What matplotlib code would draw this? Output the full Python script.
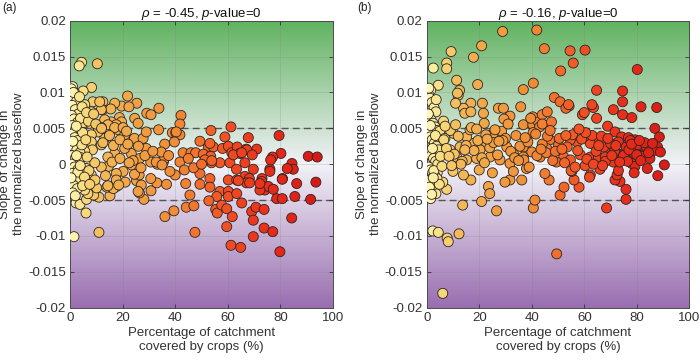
import numpy as np
import matplotlib
matplotlib.use("Agg")
import matplotlib.pyplot as plt
from matplotlib.colors import LinearSegmentedColormap

plt.rcParams['font.family'] = ['Liberation Sans', 'DejaVu Sans']
plt.rcParams['mathtext.fontset'] = 'custom'
plt.rcParams['mathtext.rm'] = 'Liberation Sans'
plt.rcParams['mathtext.it'] = 'Liberation Sans:italic'

# ---------------- data (crop %, slope in units of 1e-3) ----------------
crop_a = [4.4, 3.5, 10.4, 1.0, 0.5, 8.2, 5.0, 21.9, 25.4, 19.6, 22.4, 33.8, 29.2, 30.8, 42.2, 41.8,
          53.6, 61.2, 58.9, 67.8, 79.5, 80.2, 77.0, 84.4, 90.6, 94.0, 38.9, 40.2, 41.8, 49.4, 52.6,
          54.5, 58.0, 60.2, 61.5, 63.6, 67.0, 71.0, 67.2, 64.6, 43.0, 46.0, 47.8, 50.7, 53.5, 57.0,
          53.8, 60.8, 63.3, 66.5, 69.3, 73.0, 76.0, 80.8, 84.9, 41.8, 35.5, 35.8, 33.2, 30.7,
          53.2, 62.1, 65.3, 51.3, 53.9, 69.7, 76.3, 82.6, 76.0, 49.4, 53.2, 60.2, 63.4, 66.5, 68.2,
          72.9, 72.9, 74.1, 75.4, 77.3, 80.7, 86.2, 93.5, 57.0, 60.2, 60.2, 55.8, 63.4, 65.3, 78.6,
          80.7, 85.5, 91.5,
          1.5, 11.0, 6.1, 2.3, 3.8, 6.3, 15.2, 11.0, 9.0, 6.7, 28.1, 26.4, 30.8, 45.6, 36.1, 39.5,
          44.2, 47.1, 47.5, 52.8, 55.4, 56.0, 57.7, 59.6, 59.6, 61.2, 64.9, 61.7, 69.1, 70.7, 69.7,
          69.7, 73.8, 73.8, 77.1, 79.8, 84.3, 72.2, 72.2, 67.1, 68.3, 64.0, 53.2, 49.4, 36.7, 33.0,
          25.3, 15.2, 17.7, 17.7, 14.0, 10.1, 16.5,
          33.7, 40.4, 39.7, 36.0, 34.7, 32.8, 35.0, 30.7, 27.1, 25.9, 26.3, 24.5, 23.4, 20.2, 17.6,
          17.6, 14.4, 6.8, 5.6, 0.5, 18.3, 20.8, 24.5, 27.8, 29.0, 29.0, 26.5, 23.3, 20.8, 17.0,
          14.4, 14.6, 11.9, 9.4, 11.9, 13.2, 10.6, 8.1, 8.1, 8.5, 5.6, 6.2, 8.1, 4.3,
          17.0, 12.5, 12.5, 15.5, 18.8, 19.6, 15.7, 17.6, 24.6, 25.9, 13.2, 11.9, 8.7, 8.1, 5.6,
          7.5, 4.3, 5.6, 1.8, 2.3, 1.1, 1.8, 11.3, 14.4, 11.9, 17.0, 20.2,
          0.5, 1.2, 2.5, 0.8, 2.0, 3.2, 0.6, 1.5, 2.8, 0.9, 2.2, 3.5, 0.7, 1.8, 3.0, 0.5, 1.5, 2.6,
          3.8, 0.8, 2.0, 3.2, 0.6, 1.7, 2.9, 0.9, 2.2, 3.4, 0.5, 1.5, 2.8, 1.0, 2.0, 3.0, 4.2, 4.5,
          4.8, 5.2, 4.0, 4.6, 1.3, 3.6, 2.4, 1.1, 3.9, 0.4, 2.5, 6.0, 6.5, 7.2, 9.5, 7.0, 9.8, 12.0,
          6.3, 9.0, 5.5, 4.8, 7.5,
          12.5, 15.0, 16.5, 19.0, 21.5, 22.0, 24.0, 26.0, 28.5, 31.5, 13.5, 16.0, 19.0, 21.0, 22.5,
          27.0, 18.5, 37.5, 43.5, 45.0, 47.0, 50.0, 44.0, 40.0, 38.0]
slope_a = [14.2, 13.7, 14.0, 10.8, 10.5, 10.7, 10.2, 9.5, 8.5, 8.1, 8.0, 7.8, 7.1, 6.9, 6.8, 5.6,
           4.7, 5.2, 3.8, 3.7, 4.0, 1.5, 1.0, 0.1, 1.1, 1.0, 4.4, 4.4, 4.1, 3.2, 2.4,
           2.4, 2.2, 2.5, 1.6, 2.4, 2.1, 2.1, 2.0, 1.5, 1.6, 1.6, 1.6, 1.4, 1.1, 0.2,
           0.2, 0.2, -0.7, 0.2, 1.3, -2.0, -0.7, -2.0, -0.7, 0.3, 0.3, 0.7, 0.0, 0.3,
           2.9, 1.3, 1.6, 0.6, 0.5, -0.7, 0.6, -0.6, -1.0, -1.3, -2.0, -2.2, -2.2, -1.7, -2.0,
           -2.4, -3.4, -3.6, -3.1, -3.5, -2.1, -2.7, -2.5, -3.8, -3.8, -4.5, -4.5, -4.1, -5.4, -4.8,
           -4.8, -4.5, -4.9,
           -10.1, -9.5, -6.8, -5.4, -5.6, -4.9, -4.4, -4.6, -4.3, -3.9, -4.9, -4.0, -3.7, -4.3, -7.3, -6.5,
           -6.0, -5.8, -9.5, -5.1, -6.3, -6.8, -5.7, -6.2, -8.7, -11.3, -11.6, -7.3, -6.6, -6.0, -7.8,
           -10.1, -8.9, -6.3, -9.4, -12.2, -7.5, -3.6, -2.7, -2.6, -2.6, -2.3, -3.2, -2.8, -2.8, -2.6,
           -2.3, -3.2, -3.1, -2.4, -3.2, -3.3, -3.4,
           4.8, 4.5, 3.1, 2.8, 1.7, 0.3, -0.1, -2.0, -2.9, -3.8, -1.5, -1.4, -0.1, -1.0, -1.3,
           -2.2, -3.0, -4.1, -3.6, -3.1, 4.8, 4.1, 3.6, 3.6, 4.5, 2.2, 0.8, 1.5, 2.2, 1.5,
           1.0, -0.3, -0.4, 0.2, 2.7, 3.6, 4.5, 4.1, 3.1, 2.0, 1.8, -0.6, -1.5, -2.0,
           8.5, 8.7, 7.6, 7.7, 6.5, 5.9, 5.9, 5.5, 6.4, 5.7, 6.2, 7.6, 8.7, 7.3, 6.4,
           5.7, 7.6, 8.3, 9.9, 8.3, 7.1, 5.9, 8.7, 5.5, 5.1, 5.1, 5.1,
           9.8, 9.3, 8.8, 8.2, 7.6, 7.0, 6.8, 6.3, 5.8, 5.4, 4.9, 4.6, 4.2, 3.7, 3.3, 2.9, 2.4, 2.0,
           1.6, 1.2, 0.8, 0.4, 0.0, -0.4, -0.8, -1.3, -1.8, -2.3, -2.6, -3.0, -3.4, -4.0, -4.4, -1.1, 0.9, 2.7,
           4.4, 5.8, 6.4, 8.0, 10.0, 9.4, 5.3, 3.2, -0.2, -1.9, 1.2, 3.4, 1.0, -0.9, -2.2, 6.0, 5.6, 5.0,
           7.2, 7.0, -1.8, -3.0, -2.8,
           3.0, 4.0, 2.6, 3.4, 4.6, 2.8, 0.5, 2.5, 1.2, 1.8, -1.6, 0.3, 0.8, -2.5, 0.2,
           -0.5, -2.9, 1.2, -0.8, 0.8, -0.5, 0.0, -2.7, -1.5, -1.0]

crop_b = [28.9, 41.9, 44.8, 20.9, 17.8, 9.3, 7.6, 7.6, 2.5, 54.6, 55.8, 60.3, 51.0, 80.2, 74.6, 74.6,
          64.7, 40.6, 36.8, 19.4, 11.4, 4.4, 12.0, 12.5, 27.3, 29.2, 35.8, 31.1, 21.6, 48.6, 50.8,
          54.2, 53.0, 59.3, 60.0, 63.5, 64.7, 71.1, 74.6, 78.1, 81.6, 87.6, 86.9, 88.6, 90.5, 40.4,
          36.8, 40.4, 42.5, 43.0, 21.9, 31.7, 1.5, 11.7, 16.8, 21.2, 29.4, 39.6, 44.0, 45.9, 44.0,
          47.5, 14.0, 14.5, 11.0, 16.8, 54.0, 62.9, 68.9,
          6.1, 2.3, 4.4, 7.8, 8.2, 12.3, 49.5, 1.5, 1.5, 3.5, 7.6, 13.7, 20.9, 26.6, 23.5, 24.0,
          40.6, 41.2, 50.8, 52.3, 58.0, 68.5, 75.9, 75.9, 73.6, 71.7, 56.1, 46.6, 36.2, 31.7, 29.8,
          16.8, 6.1, 1.3,
          71.7, 74.2, 76.8, 79.3, 79.3, 82.5, 85.7, 76.8, 75.0, 75.5, 78.7, 72.5, 69.9, 67.4, 64.9,
          62.3, 59.8, 57.3, 54.7, 53.5, 50.1, 46.9, 45.7, 52.2, 54.7, 58.5, 62.3, 65.4, 68.0, 71.1,
          60.3, 78.1, 79.3, 82.5, 85.1, 87.9, 72.5, 62.3, 55.3, 49.4, 43.2, 40.0, 36.8, 36.8, 33.0,
          30.5, 28.6, 25.4, 22.8, 20.3, 17.8, 15.2, 12.7, 10.2, 8.9, 11.4, 15.2, 19.0, 24.1, 27.9,
          31.7,
          10.0, 14.0, 20.0, 25.0, 33.0, 38.0, 45.0, 55.0, 62.0, 66.0, 73.0, 79.0, 84.0, 88.0, 4.0,
          2.0, 3.0,
          0.6, 1.2, 2.0, 2.8, 3.5, 0.8, 1.6, 2.4, 3.2, 4.0, 0.5, 1.3, 2.1, 2.9, 3.7, 4.5, 0.9, 1.7,
          2.6, 3.4, 4.2, 0.7, 1.5, 2.3, 3.1, 3.9, 4.8, 1.0, 1.9, 2.7, 3.6, 0.6, 1.4, 2.2, 5.2, 5.8,
          6.4, 5.0, 6.9, 0.8, 2.5, 3.3,
          6.5, 7.5, 9.0, 10.5, 12.0, 13.5, 15.0, 16.5, 18.0, 19.5, 21.0, 22.5, 24.0, 25.5, 27.0,
          28.5, 30.0, 32.0, 34.0, 35.5, 37.0, 38.5, 40.5, 42.0, 44.0, 46.0, 48.0, 7.0, 8.5, 11.0,
          13.0, 17.0, 19.0, 23.0, 26.0, 29.0, 33.5, 37.5, 41.5, 45.5, 49.0, 9.5, 14.5, 22.0, 27.5,
          31.0, 35.0, 39.0, 43.5, 47.0,
          50.5, 52.5, 55.5, 57.5, 59.0, 61.0, 63.0, 64.5, 66.5, 68.0, 70.0, 71.5, 73.0, 74.5, 76.0,
          77.5, 79.0, 80.5, 82.0, 83.5, 85.0, 86.5, 51.5, 56.5, 60.5, 65.5, 69.0, 72.0, 75.0, 77.0,
          80.0, 83.0, 86.0, 58.0, 63.5, 70.5, 76.5, 81.5, 84.5, 89.0, 53.0, 67.0, 73.5, 78.0, 81.0]
slope_b = [18.5, 18.7, 16.1, 16.5, 14.9, 15.7, 14.1, 13.3, 13.4, 15.8, 14.1, 15.9, 13.0, 13.2, 10.2, 8.7,
           10.3, 11.3, 10.4, 11.1, 11.7, 11.0, 9.6, 10.3, 7.8, 7.8, 8.0, 6.4, 7.1, 9.3, 8.7,
           8.1, 7.8, 6.9, 7.2, 7.9, 6.4, 7.6, 6.9, 6.5, 8.0, 7.9, 5.0, 3.8, -0.1, 6.6,
           5.5, 5.5, 5.9, 5.2, 5.7, 6.7, 10.3, 9.9, 8.5, 8.5, 6.3, 6.4, 6.9, 7.3, 5.6,
           5.9, 7.8, 7.1, 8.5, 7.3, 8.3, 8.3, 5.3,
           -18.0, -9.3, -9.5, -10.3, -10.8, -9.7, -12.5, -4.8, -3.6, -4.1, -3.5, -5.7, -5.2, -6.5, -3.1, -4.1,
           -6.1, -5.0, -4.3, -3.2, -3.2, -6.1, -4.9, -3.5, -2.4, -2.2, -2.2, -2.2, -2.2, -2.2, -2.5,
           -2.2, -2.5, -2.2,
           4.5, 3.8, 3.7, 3.4, 2.2, 2.4, 2.4, 1.7, 1.5, 0.8, 0.6, 1.5, 2.0, 2.4, 3.4,
           2.9, 3.8, 3.1, 3.4, 2.4, 2.7, 3.4, 2.2, 1.0, 0.6, 1.3, 1.0, 1.0, 1.0, 0.3,
           -0.2, 0.1, -0.3, 1.3, 1.7, 2.4, -1.5, -1.5, -1.0, 0.3, 1.0, 1.7, 2.4, 1.0, 1.5,
           2.4, 3.8, 4.3, 2.9, 2.0, 2.9, 3.8, 2.4, 4.3, 2.0, 1.0, 0.6, 0.8, 1.0, 0.6,
           0.1,
           -1.0, -1.5, -0.8, -1.2, -1.0, -0.6, -1.3, -0.9, -1.8, -0.7, -0.9, -1.2, -0.6, -1.6, -1.2,
           -0.5, -2.8,
           9.8, 9.2, 8.6, 7.9, 7.3, 6.8, 6.2, 5.7, 5.2, 4.7, 4.3, 3.8, 3.4, 2.9, 2.5, 2.0, 1.6, 1.2,
           0.8, 0.4, 0.0, -0.4, -0.8, -1.2, -1.6, -2.0, -2.8, -3.2, -4.2, -0.9, 9.0, 7.0, 5.4, 2.2,
           1.1, -0.3,
           6.0, 4.6, 3.6, 10.6, -1.9, 4.0,
           3.4, 2.2, 4.7, 1.4, 3.9, 0.4, 2.6, 4.8, 1.9, 3.3, 0.9, 4.1, 2.3, 3.0, 1.3,
           4.6, 3.6, 1.8, 4.0, 2.5, 0.6, 3.1, 4.4, 1.2, 2.8, 3.9, 0.5, 5.3, 1.1, 5.5,
           0.0, 5.1, 4.9, 3.5, 4.8, 3.3, 0.9, 3.7, 4.2, 1.6, 1.8, -0.2, 2.0, 0.2, 3.2,
           5.6, 0.5, -0.4, 2.1, 4.7,
           3.6, 0.2, 4.1, 1.9, 3.5, 0.7, 4.0, 1.8, 3.9, 0.4, 2.9, 1.8, 3.1, 0.7, 2.4,
           3.3, 1.5, 2.7, 1.1, 2.5, 0.8, 1.9, 2.1, -0.4, 4.4, 2.6, 3.6, 2.6, 1.2, 2.0,
           1.3, 3.0, 2.9, 4.9, 0.0, 1.2, 0.4, 0.5, 1.6, 1.7, 4.0, -0.2, 0.3, 2.8, 3.3]

titles = [r'$\rho$ = -0.45, $\it{p}$-value=0', r'$\rho$ = -0.16, $\it{p}$-value=0']
panel_labels = ['(a)', '(b)']
xticks = [0, 20, 40, 60, 80, 100]
yticks = [-0.02, -0.015, -0.01, -0.005, 0, 0.005, 0.01, 0.015, 0.02]
ytick_labels = ['-0.02', '-0.015', '-0.01', '-0.005', '0', '0.005', '0.01', '0.015', '0.02']
xlabel = 'Percentage of catchment\ncovered by crops (%)'
ylabel = 'Slope of change in\nthe normalized baseflow'
threshold = 0.005

# ---------------- style ----------------
cmap = LinearSegmentedColormap.from_list('crop', [
    (0.00, (1.00, 0.98, 0.74)),
    (0.05, (0.97, 0.87, 0.50)),
    (0.12, (0.95, 0.73, 0.35)),
    (0.25, (0.94, 0.63, 0.26)),
    (0.40, (0.94, 0.55, 0.21)),
    (0.52, (0.95, 0.40, 0.16)),
    (0.62, (0.95, 0.28, 0.13)),
    (0.78, (0.90, 0.16, 0.10)),
    (1.00, (0.80, 0.08, 0.08)),
])

def background(ax):
    n = 256
    yy = np.linspace(-0.02, 0.02, n)
    stops = [-0.02, 0.0, 0.02]
    cols = np.array([[0.60, 0.43, 0.69], [0.95, 0.95, 0.97], [0.38, 0.70, 0.38]])
    img = np.stack([np.interp(yy, stops, cols[:, k]) for k in range(3)], axis=-1)
    img = img[:, None, :]
    ax.imshow(img, extent=[0, 100, -0.02, 0.02], origin='lower', aspect='auto',
              interpolation='bilinear', zorder=0)

fig = plt.figure(figsize=(7.0, 3.62), dpi=100)
positions = [[0.100, 0.150, 0.3757, 0.7928], [0.6096, 0.150, 0.3751, 0.7928]]
datasets = [(crop_a, slope_a), (crop_b, slope_b)]
txtc = '#333333'

for i, (pos, (cx, sy)) in enumerate(zip(positions, datasets)):
    ax = fig.add_axes(pos)
    background(ax)
    x = np.array(cx)
    y = np.array(sy) / 1000.0
    for yv in (threshold, -threshold):
        ax.axhline(yv, color='#4a4a4a', lw=1.0, ls=(0, (5, 3)), zorder=1.5)
    ax.scatter(x, y, c=x, cmap=cmap, vmin=0, vmax=100, s=52, edgecolors='#2e2420',
               linewidths=0.6, zorder=3)
    ax.set_xlim(0, 100)
    ax.set_ylim(-0.02, 0.02)
    ax.set_xticks(xticks)
    ax.set_yticks(yticks)
    ax.set_yticklabels(ytick_labels)
    ax.grid(True, color='#808080', alpha=0.25, lw=0.6, zorder=1)
    ax.tick_params(direction='in', length=3, width=0.6, colors=txtc, labelsize=9.5,
                   top=True, right=True, pad=3)
    for s in ax.spines.values():
        s.set_color('#4d4d4d')
        s.set_linewidth(0.7)
    ax.set_title(titles[i], fontsize=9.5, pad=3, color='#111111')
    ax.set_xlabel(xlabel, fontsize=9.5, color=txtc, labelpad=2, linespacing=1.25)
    ax.set_ylabel(ylabel, fontsize=9.5, color=txtc, labelpad=2, linespacing=1.25)

fig.text(0.003, 0.978, panel_labels[0], fontsize=8.5, color='#222222', va='center', ha='left')
fig.text(0.511, 0.978, panel_labels[1], fontsize=8.5, color='#222222', va='center', ha='left')

fig.savefig('out.png', dpi=100)
